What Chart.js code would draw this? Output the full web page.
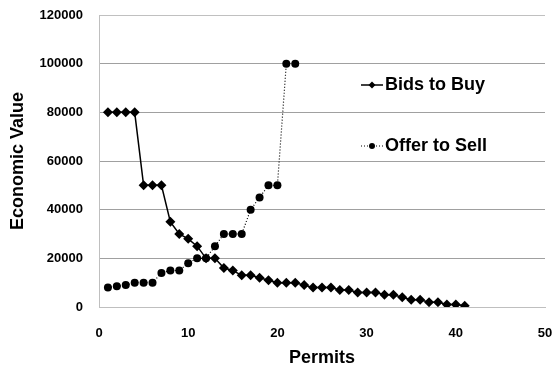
<!DOCTYPE html>
<html>
<head>
<meta charset="utf-8">
<script src="https://cdn.jsdelivr.net/npm/chart.js@4/dist/chart.umd.min.js"></script>
<style>
html,body{margin:0;padding:0;background:#fff;}
#wrap{width:557px;height:370px;position:relative;}
</style>
</head>
<body>
<div id="wrap"><canvas id="c" width="557" height="370"></canvas></div>
<script>
const permits = [1,2,3,4,5,6,7,8,9,10,11,12,13,14,15,16,17,18,19,20,21,22,23,24,25,26,27,28,29,30,31,32,33,34,35,36,37,38,39,40,41];
const bidsToBuy = [80000,80000,80000,80000,50000,50000,50000,35000,30000,28000,25000,20000,20000,16000,15000,13000,13000,12000,11000,10000,10000,10000,9000,8000,8000,8000,7000,7000,6000,6000,6000,5000,5000,4000,3000,3000,2000,2000,1000,1000,500];
const offerPermits = [1,2,3,4,5,6,7,8,9,10,11,12,13,14,15,16,17,18,19,20,21,22];
const offerToSell = [8000,8500,9000,10000,10000,10000,14000,15000,15000,18000,20000,20000,25000,30000,30000,30000,40000,45000,50000,50000,100000,100000];
const seriesNames = ['Bids to Buy','Offer to Sell'];
const yTicks = [0,20000,40000,60000,80000,100000,120000];
const xTicks = [0,10,20,30,40,50];

const FONT = "'Liberation Sans', Arial, sans-serif";

const legendPlugin = {
  id: 'customLegend',
  afterDraw(chart) {
    const ctx = chart.ctx;
    const items = [
      {label: seriesNames[0], y: 85, dash: [], style: 'diamond'},
      {label: seriesNames[1], y: 146, dash: [1, 2], style: 'circle'}
    ];
    ctx.save();
    items.forEach(it => {
      ctx.strokeStyle = '#000';
      ctx.lineWidth = it.style === 'diamond' ? 1.5 : 1.2;
      ctx.setLineDash(it.dash);
      ctx.beginPath();
      ctx.moveTo(361, it.y);
      ctx.lineTo(383, it.y);
      ctx.stroke();
      ctx.setLineDash([]);
      ctx.fillStyle = '#000';
      ctx.beginPath();
      if (it.style === 'diamond') {
        ctx.moveTo(372, it.y - 3.5); ctx.lineTo(375.5, it.y); ctx.lineTo(372, it.y + 3.5); ctx.lineTo(368.5, it.y);
        ctx.closePath();
      } else {
        ctx.arc(372, it.y, 3, 0, Math.PI * 2);
      }
      ctx.fill();
      ctx.font = 'bold 18px ' + FONT;
      ctx.textBaseline = 'middle';
      ctx.textAlign = 'left';
      ctx.fillText(it.label, 385, it.y);
    });
    ctx.restore();
  }
};

new Chart(document.getElementById('c'), {
  type: 'scatter',
  data: {
    datasets: [
      {
        label: seriesNames[0],
        data: permits.map((p, i) => ({x: p, y: bidsToBuy[i]})),
        showLine: true,
        borderColor: '#000',
        backgroundColor: '#000',
        borderWidth: 1.5,
        pointStyle: 'rectRot',
        pointRadius: 5,
        pointBorderWidth: 0,
        tension: 0
      },
      {
        label: seriesNames[1],
        data: offerPermits.map((p, i) => ({x: p, y: offerToSell[i]})),
        showLine: true,
        borderColor: '#000',
        backgroundColor: '#000',
        borderWidth: 1.2,
        borderDash: [1, 2],
        pointStyle: 'circle',
        pointRadius: 4,
        pointBorderWidth: 0,
        tension: 0
      }
    ]
  },
  options: {
    responsive: false,
    animation: false,
    layout: {padding: {left: 0, right: 12, top: 15, bottom: 0}},
    plugins: {legend: {display: false}, tooltip: {enabled: false}},
    scales: {
      x: {
        type: 'linear',
        min: 0, max: 50,
        afterBuildTicks: s => { s.ticks = xTicks.map(v => ({value: v})); },
        afterFit: s => { s.height = 63; s.paddingLeft = 0; s.paddingRight = 0; },
        grid: {display: false, drawTicks: false},
        border: {display: true, color: '#bfbfbf', width: 1},
        ticks: {padding: 19, color: '#000', font: {family: FONT, size: 13, weight: 'bold'}},
        title: {display: true, text: 'Permits', color: '#000', font: {family: FONT, size: 18, weight: 'bold'}, padding: {top: 0, bottom: 1}}
      },
      y: {
        type: 'linear',
        min: 0, max: 120000,
        afterBuildTicks: s => { s.ticks = yTicks.map(v => ({value: v})); },
        afterFit: s => { s.width = 99; s.paddingTop = 0; s.paddingBottom = 0; },
        grid: {color: c => (c.tick && (c.tick.value === 120000 || c.tick.value === 0)) ? '#c0c0c0' : '#a0a0a0', lineWidth: 1, drawTicks: false},
        border: {display: true, color: '#bfbfbf', width: 1},
        ticks: {padding: 16, color: '#000', font: {family: FONT, size: 13, weight: 'bold'}, callback: v => String(v)},
        title: {display: true, text: 'Economic Value', color: '#000', font: {family: FONT, size: 18, weight: 'bold'}, padding: {top: 7, bottom: 0}}
      }
    }
  },
  plugins: [legendPlugin]
});
</script>
</body>
</html>
